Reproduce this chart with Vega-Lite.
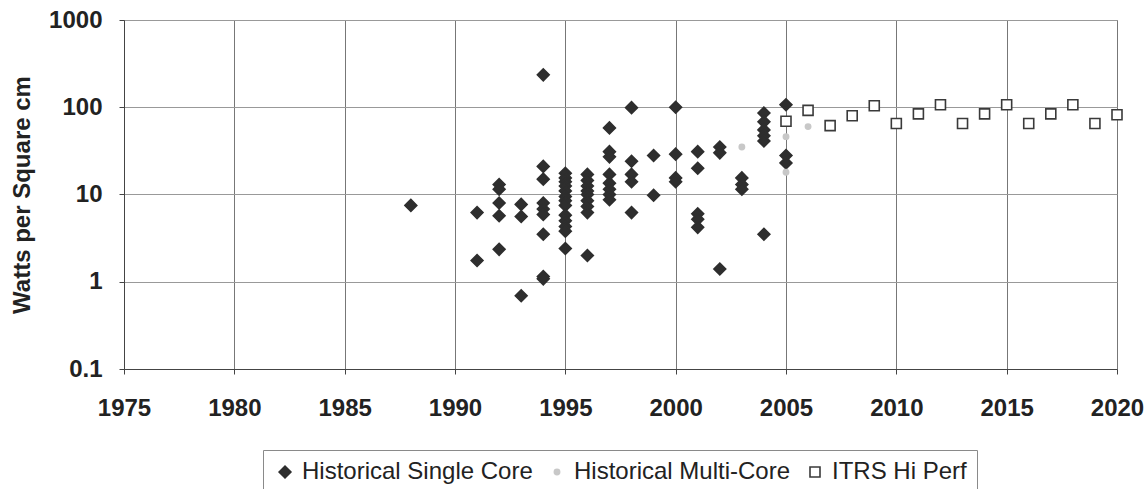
{
  "$schema": "https://vega.github.io/schema/vega-lite/v6.json",
  "width": 993,
  "height": 349,
  "autosize": "none",
  "padding": {"left": 124, "top": 20, "right": 31, "bottom": 120},
  "background": "white",
  "config": {
    "font": "Liberation Sans",
    "view": {"stroke": "#8a8a8a", "strokeWidth": 1}
  },
  "data": {
    "values": [
      {"year": 1988, "watts": 7.5, "series": "Historical Single Core"},
      {"year": 1991, "watts": 6.2, "series": "Historical Single Core"},
      {"year": 1991, "watts": 1.75, "series": "Historical Single Core"},
      {"year": 1992, "watts": 13, "series": "Historical Single Core"},
      {"year": 1992, "watts": 11.5, "series": "Historical Single Core"},
      {"year": 1992, "watts": 8, "series": "Historical Single Core"},
      {"year": 1992, "watts": 5.7, "series": "Historical Single Core"},
      {"year": 1992, "watts": 2.35, "series": "Historical Single Core"},
      {"year": 1993, "watts": 7.7, "series": "Historical Single Core"},
      {"year": 1993, "watts": 5.6, "series": "Historical Single Core"},
      {"year": 1993, "watts": 0.69, "series": "Historical Single Core"},
      {"year": 1994, "watts": 235, "series": "Historical Single Core"},
      {"year": 1994, "watts": 21, "series": "Historical Single Core"},
      {"year": 1994, "watts": 15, "series": "Historical Single Core"},
      {"year": 1994, "watts": 8, "series": "Historical Single Core"},
      {"year": 1994, "watts": 6.8, "series": "Historical Single Core"},
      {"year": 1994, "watts": 5.9, "series": "Historical Single Core"},
      {"year": 1994, "watts": 3.5, "series": "Historical Single Core"},
      {"year": 1994, "watts": 1.15, "series": "Historical Single Core"},
      {"year": 1994, "watts": 1.08, "series": "Historical Single Core"},
      {"year": 1995, "watts": 17.5, "series": "Historical Single Core"},
      {"year": 1995, "watts": 15.5, "series": "Historical Single Core"},
      {"year": 1995, "watts": 14, "series": "Historical Single Core"},
      {"year": 1995, "watts": 12.5, "series": "Historical Single Core"},
      {"year": 1995, "watts": 11, "series": "Historical Single Core"},
      {"year": 1995, "watts": 9.5, "series": "Historical Single Core"},
      {"year": 1995, "watts": 8.5, "series": "Historical Single Core"},
      {"year": 1995, "watts": 7.5, "series": "Historical Single Core"},
      {"year": 1995, "watts": 5.8, "series": "Historical Single Core"},
      {"year": 1995, "watts": 5, "series": "Historical Single Core"},
      {"year": 1995, "watts": 4.3, "series": "Historical Single Core"},
      {"year": 1995, "watts": 3.8, "series": "Historical Single Core"},
      {"year": 1995, "watts": 2.4, "series": "Historical Single Core"},
      {"year": 1996, "watts": 17, "series": "Historical Single Core"},
      {"year": 1996, "watts": 14.5, "series": "Historical Single Core"},
      {"year": 1996, "watts": 12.5, "series": "Historical Single Core"},
      {"year": 1996, "watts": 11, "series": "Historical Single Core"},
      {"year": 1996, "watts": 10, "series": "Historical Single Core"},
      {"year": 1996, "watts": 8.5, "series": "Historical Single Core"},
      {"year": 1996, "watts": 7.3, "series": "Historical Single Core"},
      {"year": 1996, "watts": 6.2, "series": "Historical Single Core"},
      {"year": 1996, "watts": 2.0, "series": "Historical Single Core"},
      {"year": 1997, "watts": 58, "series": "Historical Single Core"},
      {"year": 1997, "watts": 31, "series": "Historical Single Core"},
      {"year": 1997, "watts": 27, "series": "Historical Single Core"},
      {"year": 1997, "watts": 17, "series": "Historical Single Core"},
      {"year": 1997, "watts": 13.5, "series": "Historical Single Core"},
      {"year": 1997, "watts": 11.5, "series": "Historical Single Core"},
      {"year": 1997, "watts": 10, "series": "Historical Single Core"},
      {"year": 1997, "watts": 8.7, "series": "Historical Single Core"},
      {"year": 1998, "watts": 99, "series": "Historical Single Core"},
      {"year": 1998, "watts": 24, "series": "Historical Single Core"},
      {"year": 1998, "watts": 17, "series": "Historical Single Core"},
      {"year": 1998, "watts": 14, "series": "Historical Single Core"},
      {"year": 1998, "watts": 6.2, "series": "Historical Single Core"},
      {"year": 1999, "watts": 28, "series": "Historical Single Core"},
      {"year": 1999, "watts": 9.8, "series": "Historical Single Core"},
      {"year": 2000, "watts": 100, "series": "Historical Single Core"},
      {"year": 2000, "watts": 29, "series": "Historical Single Core"},
      {"year": 2000, "watts": 15.5, "series": "Historical Single Core"},
      {"year": 2000, "watts": 14, "series": "Historical Single Core"},
      {"year": 2001, "watts": 31, "series": "Historical Single Core"},
      {"year": 2001, "watts": 20, "series": "Historical Single Core"},
      {"year": 2001, "watts": 6, "series": "Historical Single Core"},
      {"year": 2001, "watts": 5.2, "series": "Historical Single Core"},
      {"year": 2001, "watts": 4.2, "series": "Historical Single Core"},
      {"year": 2002, "watts": 35, "series": "Historical Single Core"},
      {"year": 2002, "watts": 30, "series": "Historical Single Core"},
      {"year": 2002, "watts": 1.4, "series": "Historical Single Core"},
      {"year": 2003, "watts": 15.5, "series": "Historical Single Core"},
      {"year": 2003, "watts": 13, "series": "Historical Single Core"},
      {"year": 2003, "watts": 11.5, "series": "Historical Single Core"},
      {"year": 2004, "watts": 86, "series": "Historical Single Core"},
      {"year": 2004, "watts": 68, "series": "Historical Single Core"},
      {"year": 2004, "watts": 55, "series": "Historical Single Core"},
      {"year": 2004, "watts": 47, "series": "Historical Single Core"},
      {"year": 2004, "watts": 41, "series": "Historical Single Core"},
      {"year": 2004, "watts": 3.5, "series": "Historical Single Core"},
      {"year": 2005, "watts": 107, "series": "Historical Single Core"},
      {"year": 2005, "watts": 28, "series": "Historical Single Core"},
      {"year": 2005, "watts": 23, "series": "Historical Single Core"},
      {"year": 2003, "watts": 35, "series": "Historical Multi-Core"},
      {"year": 2005, "watts": 46, "series": "Historical Multi-Core"},
      {"year": 2006, "watts": 60, "series": "Historical Multi-Core"},
      {"year": 2005, "watts": 18, "series": "Historical Multi-Core"},
      {"year": 2005, "watts": 69, "series": "ITRS Hi Perf"},
      {"year": 2006, "watts": 92, "series": "ITRS Hi Perf"},
      {"year": 2007, "watts": 61.5, "series": "ITRS Hi Perf"},
      {"year": 2008, "watts": 80, "series": "ITRS Hi Perf"},
      {"year": 2009, "watts": 104, "series": "ITRS Hi Perf"},
      {"year": 2010, "watts": 65, "series": "ITRS Hi Perf"},
      {"year": 2011, "watts": 84, "series": "ITRS Hi Perf"},
      {"year": 2012, "watts": 107, "series": "ITRS Hi Perf"},
      {"year": 2013, "watts": 65, "series": "ITRS Hi Perf"},
      {"year": 2014, "watts": 84, "series": "ITRS Hi Perf"},
      {"year": 2015, "watts": 107, "series": "ITRS Hi Perf"},
      {"year": 2016, "watts": 65, "series": "ITRS Hi Perf"},
      {"year": 2017, "watts": 84, "series": "ITRS Hi Perf"},
      {"year": 2018, "watts": 107, "series": "ITRS Hi Perf"},
      {"year": 2019, "watts": 65, "series": "ITRS Hi Perf"},
      {"year": 2020, "watts": 82, "series": "ITRS Hi Perf"}
    ]
  },
  "mark": {"type": "point", "filled": false, "strokeWidth": 1.6, "opacity": 1},
  "encoding": {
    "x": {
      "field": "year",
      "type": "quantitative",
      "scale": {"domain": [1975, 2020], "nice": false, "zero": false},
      "axis": {
        "title": null,
        "values": [1975, 1980, 1985, 1990, 1995, 2000, 2005, 2010, 2015, 2020],
        "format": "d",
        "labelFontSize": 24,
        "labelFontWeight": "bold",
        "labelColor": "#222",
        "labelPadding": 22,
        "tickSize": 5,
        "tickColor": "#444",
        "domainColor": "#444",
        "gridColor": "#777",
        "gridWidth": 1,
        "labelFlush": false
      }
    },
    "y": {
      "field": "watts",
      "type": "quantitative",
      "scale": {"type": "log", "domain": [0.1, 1000], "nice": false},
      "axis": {
        "title": "Watts per Square cm",
        "titleFontSize": 24,
        "titleFontWeight": "bold",
        "titleColor": "#222",
        "titlePadding": 14,
        "values": [0.1, 1, 10, 100, 1000],
        "labelExpr": "datum.value < 1 ? '0.1' : '' + datum.value",
        "labelFontSize": 24,
        "labelFontWeight": "bold",
        "labelColor": "#222",
        "labelPadding": 17,
        "tickSize": 5,
        "tickColor": "#444",
        "domainColor": "#444",
        "gridColor": "#999",
        "gridWidth": 1,
        "labelFlush": false
      }
    },
    "shape": {
      "field": "series",
      "type": "nominal",
      "scale": {"domain": ["Historical Single Core", "Historical Multi-Core", "ITRS Hi Perf"], "range": ["diamond", "circle", "square"]},
      "legend": {
        "orient": "none", "legendX": 139, "legendY": 430, "direction": "horizontal", "columns": 3, "title": null,
        "labelFontSize": 24, "labelColor": "#222", "labelOffset": 5, "labelLimit": 500, "columnPadding": 12, "padding": 10,
        "strokeColor": "#8a8a8a", "symbolStrokeWidth": 1.6
      }
    },
    "fill": {
      "field": "series",
      "type": "nominal",
      "scale": {"domain": ["Historical Single Core", "Historical Multi-Core", "ITRS Hi Perf"], "range": ["#2e2e2e", "#c8c8c8", "#ffffff"]},
      "legend": {
        "orient": "none", "legendX": 139, "legendY": 430, "direction": "horizontal", "columns": 3, "title": null,
        "labelFontSize": 24, "labelColor": "#222", "labelOffset": 5, "labelLimit": 500, "columnPadding": 12, "padding": 10,
        "strokeColor": "#8a8a8a", "symbolStrokeWidth": 1.6
      }
    },
    "stroke": {
      "field": "series",
      "type": "nominal",
      "scale": {"domain": ["Historical Single Core", "Historical Multi-Core", "ITRS Hi Perf"], "range": ["#2e2e2e", "#c8c8c8", "#3a3a3a"]},
      "legend": {
        "orient": "none", "legendX": 139, "legendY": 430, "direction": "horizontal", "columns": 3, "title": null,
        "labelFontSize": 24, "labelColor": "#222", "labelOffset": 5, "labelLimit": 500, "columnPadding": 12, "padding": 10,
        "strokeColor": "#8a8a8a", "symbolStrokeWidth": 1.6
      }
    },
    "size": {
      "field": "series",
      "type": "nominal",
      "scale": {"type": "ordinal", "domain": ["Historical Single Core", "Historical Multi-Core", "ITRS Hi Perf"], "range": [140, 28, 100]},
      "legend": {
        "orient": "none", "legendX": 139, "legendY": 430, "direction": "horizontal", "columns": 3, "title": null,
        "labelFontSize": 24, "labelColor": "#222", "labelOffset": 5, "labelLimit": 500, "columnPadding": 12, "padding": 10,
        "strokeColor": "#8a8a8a", "symbolStrokeWidth": 1.6
      }
    }
  }
}
